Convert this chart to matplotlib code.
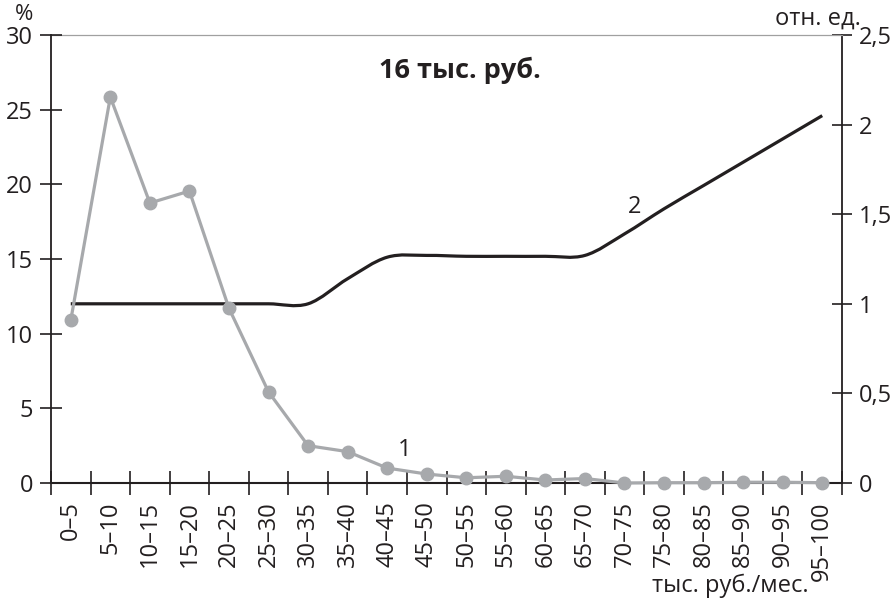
import matplotlib as mpl
mpl.use('Agg')
import matplotlib.pyplot as plt
from matplotlib.path import Path
from matplotlib.patches import PathPatch
from matplotlib.ticker import FixedLocator, FuncFormatter
import numpy as np

plt.rcParams['font.family'] = ['Open Sans', 'DejaVu Sans']

# income groups, thousand rub. per month
categories = ['0–5', '5–10', '10–15', '15–20', '20–25', '25–30', '30–35', '35–40',
              '40–45', '45–50', '50–55', '55–60', '60–65', '65–70', '70–75', '75–80',
              '80–85', '85–90', '90–95', '95–100']
# 1: share of population, %
share = [10.9, 25.85, 18.75, 19.55, 11.7, 6.1, 2.5, 2.1, 1.0, 0.6,
         0.35, 0.45, 0.2, 0.3, 0.0, 0.02, 0.02, 0.05, 0.05, 0.02]
# 2: relative units
rel = [1.0, 1.0, 1.0, 1.0, 1.0, 1.0, 1.0, 1.14, 1.26, 1.27,
       1.265, 1.265, 1.265, 1.27, 1.39, 1.53, 1.66, 1.79, 1.92, 2.05]

GRAY = '#a7a9ac'
BLACK = '#231f20'


def smooth_path(x, y):
    # catmull-rom through the points, drawn as cubic bezier
    x = np.asarray(x, float)
    y = np.asarray(y, float)
    n = len(x)
    verts = [(x[0], y[0])]
    codes = [Path.MOVETO]
    for i in range(n - 1):
        i0 = max(i - 1, 0)
        i3 = min(i + 2, n - 1)
        c1 = (x[i] + (x[i + 1] - x[i0]) / 6, y[i] + (y[i + 1] - y[i0]) / 6)
        c2 = (x[i + 1] - (x[i3] - x[i]) / 6, y[i + 1] - (y[i3] - y[i]) / 6)
        verts += [c1, c2, (x[i + 1], y[i + 1])]
        codes += [Path.CURVE4] * 3
    return Path(verts, codes)


fig = plt.figure(figsize=(8.96, 5.99), dpi=100)
ax = fig.add_axes([51 / 896, 1 - 483 / 599, 791 / 896, 448 / 599])
ax2 = ax.twinx()

pos = np.arange(len(categories))

# black curve on the right axis
ax2.add_patch(PathPatch(smooth_path(pos, rel), facecolor='none', edgecolor=BLACK,
                        lw=2.3, capstyle='butt'))
ax2.set_ylim(0, 2.5)

# gray series on the left axis, kept on top
ax.plot(pos, share, color=GRAY, lw=2.3, marker='o', ms=9, mec=GRAY, mfc=GRAY,
        clip_on=False, zorder=5)
ax.set_zorder(ax2.get_zorder() + 1)
ax.patch.set_visible(False)

ax.set_xlim(-0.5, len(categories) - 0.5)
ax.set_ylim(0, 30)
ax.set_yticks(range(0, 31, 5))

ax.xaxis.set_major_locator(FixedLocator(np.arange(-0.5, len(categories), 1.0)))
ax.xaxis.set_major_formatter(FuncFormatter(lambda v, p: ''))
ax.xaxis.set_minor_locator(FixedLocator(pos))
ax.set_xticklabels(categories, minor=True, rotation=90)
ax.tick_params(axis='x', which='major', direction='inout', length=17, width=1.2, color=BLACK)
ax.tick_params(axis='x', which='minor', length=0, pad=13, labelsize=17, labelcolor=BLACK)
ax.tick_params(axis='y', direction='inout', length=16, width=1.2, color=BLACK,
               labelsize=17, pad=5, labelcolor=BLACK)

ax2.set_yticks(np.arange(0, 2.51, 0.5))
ax2.yaxis.set_major_formatter(FuncFormatter(lambda v, p: ('%g' % v).replace('.', ',')))
ax2.tick_params(axis='y', direction='inout', length=14, width=1.2, color=BLACK,
                labelsize=17, pad=5, labelcolor=BLACK)

for s in ['top', 'right']:
    ax.spines[s].set_visible(False)
ax.spines['left'].set_color(BLACK)
ax.spines['left'].set_linewidth(1.3)
ax.spines['bottom'].set_color(BLACK)
ax.spines['bottom'].set_linewidth(1.5)
for s in ['left', 'bottom']:
    ax2.spines[s].set_visible(False)
ax2.spines['top'].set_color('#a0a0a0')
ax2.spines['top'].set_linewidth(0.9)
ax2.spines['right'].set_color(BLACK)
ax2.spines['right'].set_linewidth(1.3)

ax.text(0.517, 0.922, '16 тыс. руб.', transform=ax.transAxes, ha='center', va='center',
        fontsize=19.5, fontweight='bold', color=BLACK)
ax.text(8.45, 2.2, '1', ha='center', va='center', fontsize=17, color=BLACK)
ax2.text(14.25, 1.54, '2', ha='center', va='center', fontsize=17, color=BLACK)

fig.text(24 / 896, 1 - 15 / 599, '%', ha='center', va='center', fontsize=16, color=BLACK)
fig.text(818 / 896, 1 - 19 / 599, 'отн. ед.', ha='center', va='center', fontsize=17, color=BLACK)
fig.text(809 / 896, 1 - 586 / 599, 'тыс. руб./мес.', ha='right', va='center', fontsize=17,
         color=BLACK)

plt.savefig('out.png', dpi=100)
plt.close()
